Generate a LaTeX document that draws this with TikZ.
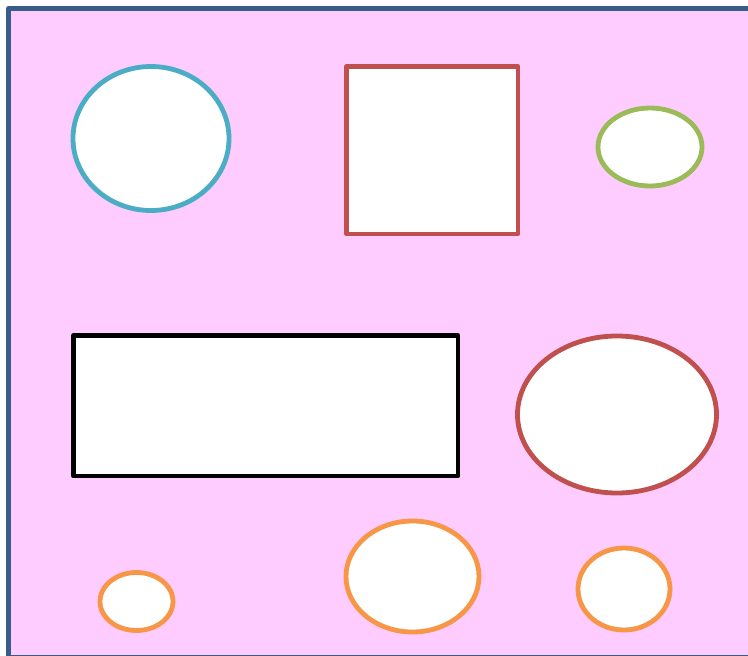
\documentclass[tikz,border=0pt]{standalone}
\definecolor{bgpink}{HTML}{FFCCFF}
\definecolor{frameblue}{HTML}{385D8A}
\definecolor{cyanc}{HTML}{4BACC6}
\definecolor{redc}{HTML}{C0504D}
\definecolor{greenc}{HTML}{9BBB59}
\definecolor{orangec}{HTML}{F79646}
\begin{document}
\begin{tikzpicture}[x=1pt,y=-1pt,
  shp/.style={fill=white,line width=4.8pt},
  line join=round]
\useasboundingbox (0,0) rectangle (748,656);
\clip (0,0) rectangle (748,656);
\fill[white] (0,0) rectangle (748,656);
\draw[fill=bgpink,draw=frameblue,line width=5pt] (8.5,8.5) rectangle (760,657.5);
% top row
\draw[shp,draw=cyanc] (151,138.5) ellipse [x radius=78, y radius=72];
\draw[shp,draw=redc] (346.5,66.5) rectangle (518,234);
\draw[shp,draw=greenc] (650,147) ellipse [x radius=52, y radius=39];
% middle row
\draw[shp,draw=black] (73.5,335.5) rectangle (458,476);
\draw[shp,draw=redc] (617,414.5) ellipse [x radius=99.5, y radius=78.5];
% bottom row
\draw[shp,draw=orangec] (136.5,601.5) ellipse [x radius=36.5, y radius=29];
\draw[shp,draw=orangec] (412.5,576.5) ellipse [x radius=66.5, y radius=55.5];
\draw[shp,draw=orangec] (624,589) ellipse [x radius=46, y radius=41];
\end{tikzpicture}
\end{document}
